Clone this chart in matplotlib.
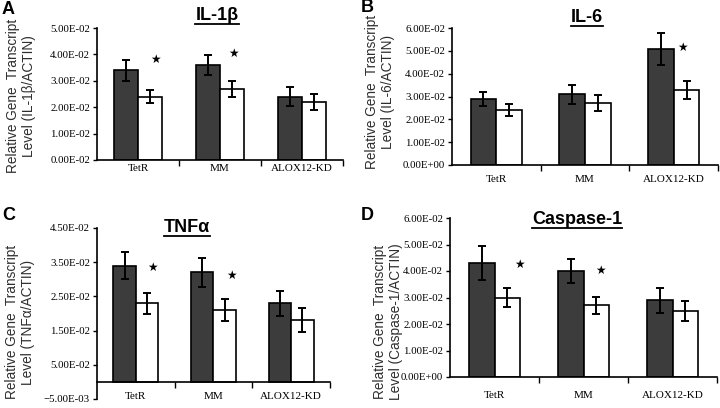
import matplotlib
matplotlib.use("Agg")
import matplotlib.pyplot as plt
from matplotlib.lines import Line2D

groups = ["TetR", "MM", "ALOX12-KD"]

# A: IL-1b
il1b_dark = [0.034, 0.036, 0.024]
il1b_dark_err = [0.004, 0.0038, 0.0037]
il1b_white = [0.024, 0.027, 0.022]
il1b_white_err = [0.0025, 0.003, 0.003]
il1b_star_x = [0.21, 1.17]
il1b_star_y = [0.038, 0.0404]

# B: IL-6
il6_dark = [0.029, 0.031, 0.051]
il6_dark_err = [0.003, 0.0042, 0.007]
il6_white = [0.024, 0.027, 0.033]
il6_white_err = [0.0025, 0.0035, 0.004]
il6_star_x = [2.1]
il6_star_y = [0.0514]

# C: TNFa
tnf_dark = [0.034, 0.032, 0.023]
tnf_dark_err = [0.004, 0.0043, 0.0037]
tnf_white = [0.023, 0.021, 0.018]
tnf_white_err = [0.003, 0.0032, 0.0035]
tnf_star_x = [0.22, 1.23]
tnf_star_y = [0.0336, 0.031]

# D: Caspase-1
casp_dark = [0.043, 0.040, 0.029]
casp_dark_err = [0.0065, 0.0045, 0.0047]
casp_white = [0.030, 0.027, 0.025]
casp_white_err = [0.0036, 0.0031, 0.0038]
casp_star_x = [0.28, 1.19]
casp_star_y = [0.0426, 0.0403]

ticks_a = [0, 0.01, 0.02, 0.03, 0.04, 0.05]
labels_a = ["0.00E-02", "1.00E-02", "2.00E-02", "3.00E-02", "4.00E-02", "5.00E-02"]
ticks_b = [0, 0.01, 0.02, 0.03, 0.04, 0.05, 0.06]
labels_b = ["0.00E+00", "1.00E-02", "2.00E-02", "3.00E-02", "4.00E-02", "5.00E-02", "6.00E-02"]
ticks_c = [-0.005, 0.005, 0.015, 0.025, 0.035, 0.045]
labels_c = ["\u22125.00E-03", "5.00E-02", "1.50E-02", "2.50E-02", "3.50E-02", "4.50E-02"]
ticks_d = ticks_b
labels_d = labels_b

W, H = 720, 408
fig = plt.figure(figsize=(7.2, 4.08), dpi=100)
fig.patch.set_facecolor("white")

serif = "Liberation Serif"
sans = "Liberation Sans"
dark = "#3c3c3c"


def px(x, y):
    return x / W, 1 - y / H


def panel(rect, letter, letter_pos, title, title_pos, ylab, ylab_pos,
          dk, dk_err, wh, wh_err, sx, sy, ylim, ticks, labels, lab_pad):
    l, r, t, b = rect
    ax = fig.add_axes([l / W, 1 - b / H, (r - l) / W, (b - t) / H])
    for s in ["top", "right"]:
        ax.spines[s].set_visible(False)
    ax.spines["left"].set_linewidth(1.2)
    ax.spines["bottom"].set_linewidth(1.2)
    ax.spines["bottom"].set_position(("data", 0))
    ax.set_facecolor("none")

    xs = list(range(len(groups)))
    w = 0.29
    ekw = dict(ecolor="black", elinewidth=1.4, capsize=3.0, capthick=1.4)
    ax.bar([x - w / 2 for x in xs], dk, w, yerr=dk_err, color=dark,
           edgecolor="black", linewidth=1.2, error_kw=ekw, zorder=2)
    ax.bar([x + w / 2 for x in xs], wh, w, yerr=wh_err, color="white",
           edgecolor="black", linewidth=1.2, error_kw=ekw, zorder=2)
    for x, y in zip(sx, sy):
        ax.text(x, y, "\u2605", ha="center", va="center", fontsize=8.5,
                family="DejaVu Sans", color="black")
    ax.set_xlim(-0.5, 2.5)
    ax.set_ylim(*ylim)
    ax.set_yticks(ticks)
    ax.set_yticklabels(labels, family=serif, fontsize=7.8)
    ax.set_xticks(xs)
    ax.set_xticklabels(groups, family=serif, fontsize=8)
    ax.set_xticks([0.5, 1.5, 2.5], minor=True)
    ax.tick_params(axis="x", which="major", length=0, pad=lab_pad)
    ax.tick_params(axis="x", which="minor", length=4, width=1, direction="out")
    ax.tick_params(axis="y", length=3, width=1, direction="out", pad=2)

    fig.text(*px(*letter_pos), letter, family=sans, fontweight="bold",
             fontsize=13, ha="left", va="center")
    tt = fig.text(*px(*title_pos), title, family=sans, fontweight="bold",
                  fontsize=13, ha="center", va="center")
    fig.text(*px(*ylab_pos), ylab, family=sans, fontsize=9.8, color="#2e2e2e",
             rotation=90, ha="center", va="center", linespacing=1.2,
             multialignment="center")
    return tt


titles = []
titles.append(panel((97, 343, 28, 160), "A", (2, 10), "IL-1\u03b2", (217, 15),
                    "Relative Gene  Transcript\nLevel (IL-1\u03b2/ACTIN)", (21, 96),
                    il1b_dark, il1b_dark_err, il1b_white, il1b_white_err,
                    il1b_star_x, il1b_star_y, (0, 0.05), ticks_a, labels_a, 3))
titles.append(panel((452, 718, 28, 165), "B", (361, 8), "IL-6", (587, 17),
                    "Relative Gene  Transcript\nLevel (IL-6/ACTIN)", (380, 92),
                    il6_dark, il6_dark_err, il6_white, il6_white_err,
                    il6_star_x, il6_star_y, (0, 0.06), ticks_b, labels_b, 7))
titles.append(panel((97, 330, 228, 399), "C", (2, 215), "TNF\u03b1", (187, 227),
                    "Relative Gene  Transcript\nLevel (TNF\u03b1/ACTIN)", (20, 322),
                    tnf_dark, tnf_dark_err, tnf_white, tnf_white_err,
                    tnf_star_x, tnf_star_y, (-0.005, 0.045), ticks_c, labels_c, 7))
titles.append(panel((450, 717, 218, 377), "D", (361, 215), "Caspase-1", (577, 219),
                    "Relative Gene  Transcript\nLevel (Caspase-1/ACTIN)", (388, 322),
                    casp_dark, casp_dark_err, casp_white, casp_white_err,
                    casp_star_x, casp_star_y, (0, 0.06), ticks_d, labels_d, 10))

# underline the titles
fig.canvas.draw()
rend = fig.canvas.get_renderer()
inv = fig.transFigure.inverted()
for tt in titles:
    bb = tt.get_window_extent(rend)
    (x0, y0), (x1, _) = inv.transform([(bb.x0, bb.y0 - 0.5), (bb.x1, bb.y0)])
    fig.add_artist(Line2D([x0, x1], [y0, y0], transform=fig.transFigure,
                          color="black", linewidth=1.3))

fig.savefig("out.png", dpi=100)
